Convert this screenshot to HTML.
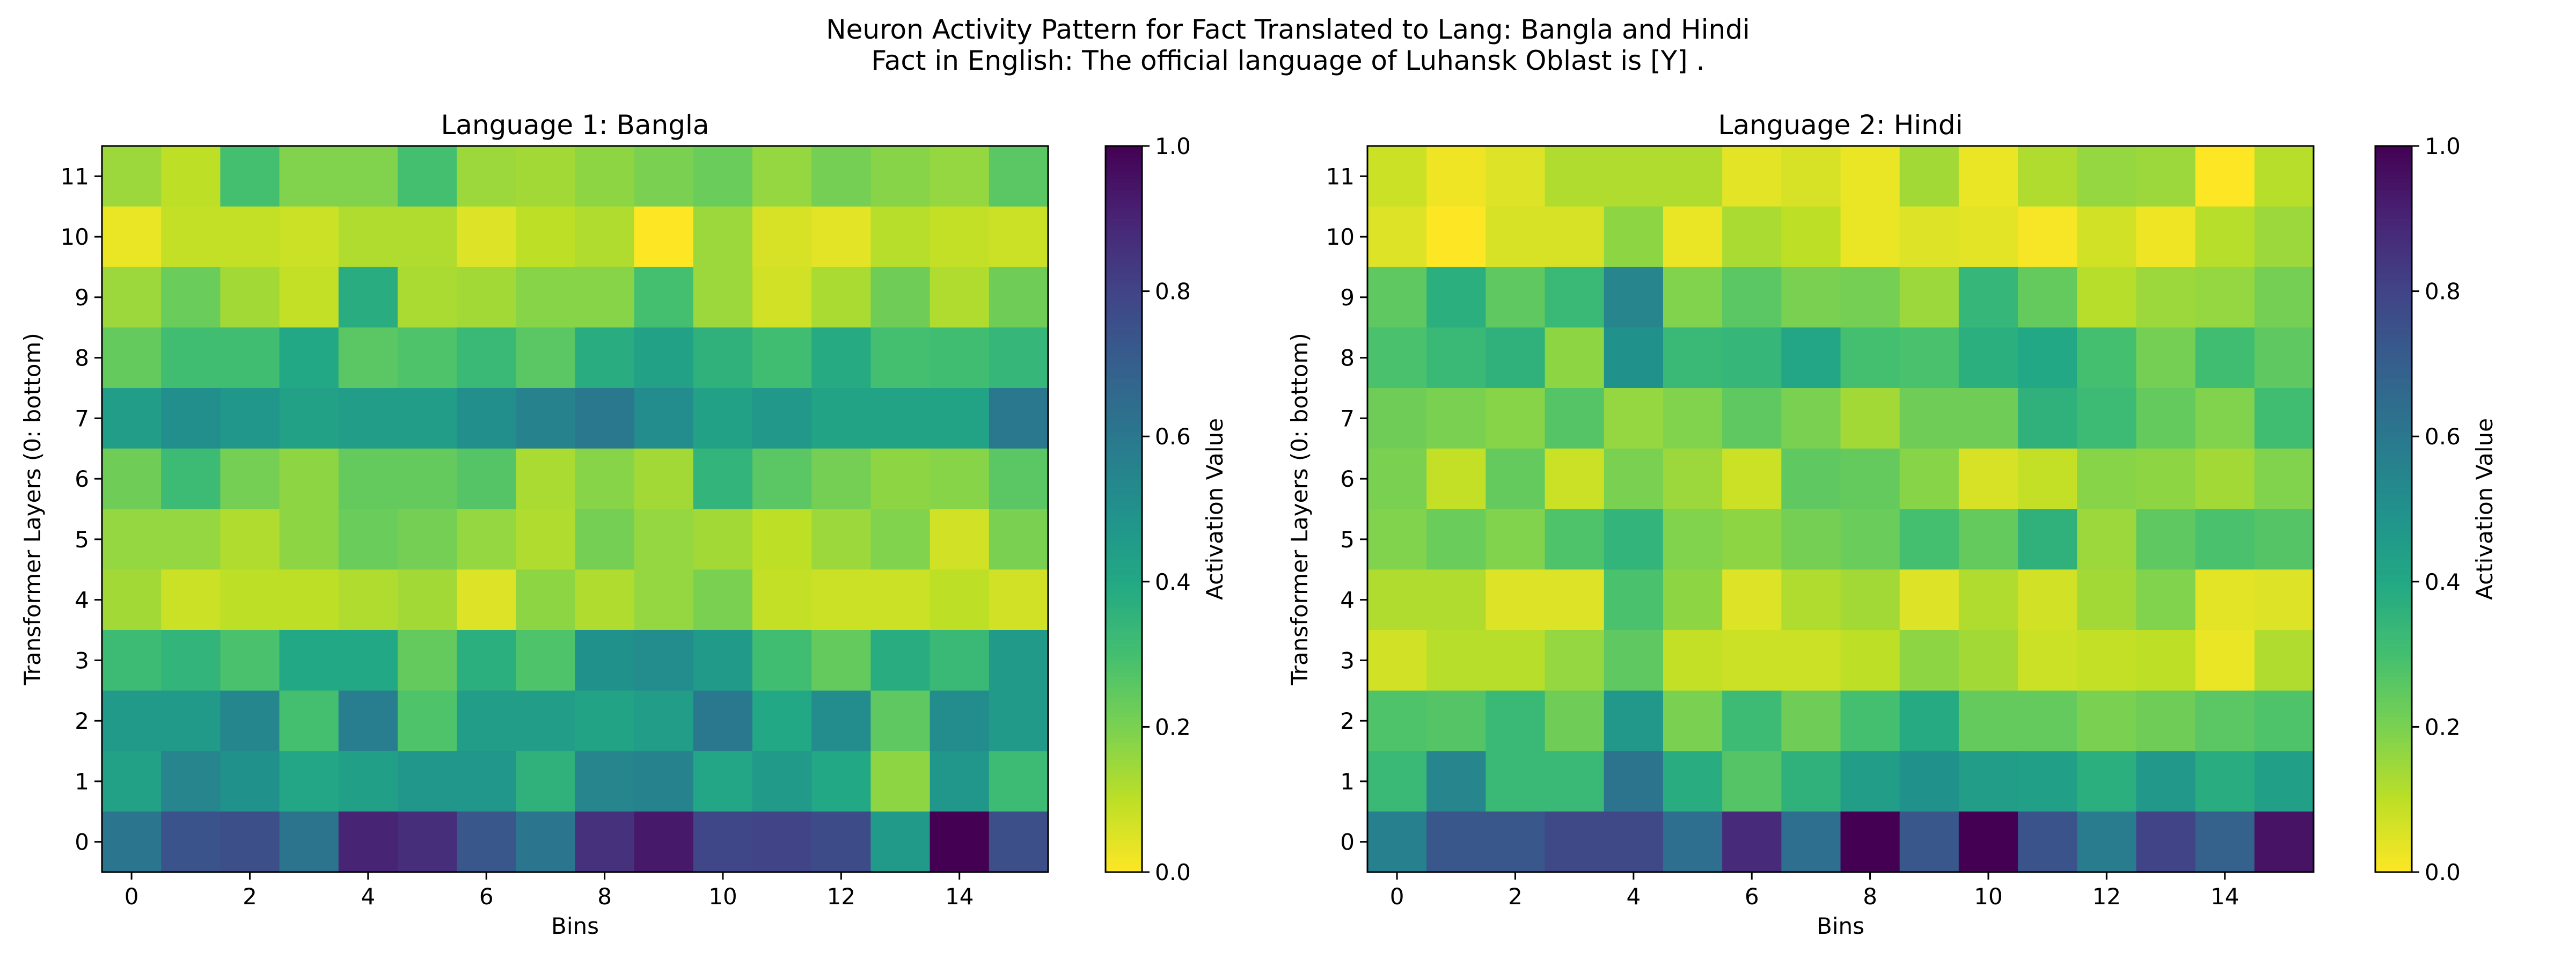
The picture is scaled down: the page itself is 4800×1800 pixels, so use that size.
<!DOCTYPE html>
<html><head><meta charset="utf-8"><style>
html,body{margin:0;padding:0;background:#fff;}
svg{display:block;font-family:"DejaVu Sans","Liberation Sans",sans-serif;}
</style></head>
<body>
<svg id="fig" width="4800" height="1800" viewBox="0 0 4800 1800" xmlns="http://www.w3.org/2000/svg">
<rect width="4800" height="1800" fill="#fff"/>
<text x="2400" y="72" font-size="50" text-anchor="middle">Neuron Activity Pattern for Fact Translated to Lang: Bangla and Hindi</text>
<text x="2400" y="130" font-size="50" text-anchor="middle">Fact in English: The official language of Luhansk Oblast is [Y] .</text>
<g id="plots"></g>
</svg>
<script>
const bins = [0,1,2,3,4,5,6,7,8,9,10,11,12,13,14,15];
const layers = [0,1,2,3,4,5,6,7,8,9,10,11];
const xTickLabels = [0,2,4,6,8,10,12,14];
const cbTickLabels = [0.0,0.2,0.4,0.6,0.8,1.0];
// rows listed from layer 11 (top) down to layer 0
const banglaValues = [
[0.15,0.10,0.30,0.19,0.19,0.30,0.15,0.14,0.17,0.20,0.23,0.16,0.21,0.18,0.16,0.26],
[0.03,0.09,0.09,0.08,0.12,0.12,0.05,0.10,0.12,0.00,0.15,0.06,0.04,0.11,0.09,0.08],
[0.15,0.23,0.14,0.09,0.38,0.13,0.14,0.18,0.18,0.30,0.15,0.07,0.13,0.22,0.12,0.22],
[0.24,0.31,0.31,0.40,0.26,0.28,0.33,0.26,0.38,0.43,0.36,0.31,0.39,0.30,0.31,0.34],
[0.45,0.51,0.48,0.43,0.45,0.45,0.51,0.56,0.60,0.52,0.43,0.47,0.42,0.42,0.42,0.60],
[0.22,0.32,0.21,0.17,0.24,0.24,0.27,0.13,0.18,0.14,0.35,0.26,0.21,0.17,0.18,0.26],
[0.16,0.16,0.12,0.17,0.23,0.21,0.16,0.12,0.21,0.16,0.14,0.10,0.15,0.19,0.07,0.20],
[0.14,0.08,0.10,0.10,0.12,0.14,0.05,0.17,0.12,0.16,0.20,0.09,0.08,0.08,0.10,0.07],
[0.32,0.35,0.29,0.40,0.40,0.24,0.37,0.28,0.50,0.52,0.46,0.31,0.24,0.38,0.33,0.46],
[0.46,0.46,0.54,0.30,0.58,0.28,0.45,0.45,0.42,0.45,0.60,0.40,0.52,0.25,0.52,0.46],
[0.43,0.55,0.50,0.41,0.44,0.48,0.48,0.36,0.55,0.56,0.41,0.46,0.40,0.17,0.48,0.32],
[0.61,0.74,0.76,0.62,0.90,0.87,0.73,0.61,0.86,0.93,0.79,0.80,0.77,0.46,1.00,0.76]
];
const hindiValues = [
[0.08,0.02,0.05,0.12,0.12,0.12,0.04,0.06,0.03,0.14,0.03,0.12,0.16,0.15,0.00,0.11],
[0.05,0.00,0.06,0.06,0.17,0.03,0.13,0.10,0.03,0.05,0.04,0.01,0.07,0.02,0.11,0.15],
[0.25,0.37,0.25,0.33,0.55,0.19,0.26,0.20,0.21,0.15,0.34,0.24,0.11,0.15,0.16,0.21],
[0.29,0.33,0.36,0.17,0.50,0.33,0.34,0.41,0.30,0.29,0.37,0.40,0.30,0.21,0.31,0.25],
[0.22,0.20,0.18,0.27,0.16,0.19,0.25,0.20,0.14,0.22,0.22,0.36,0.32,0.24,0.19,0.31],
[0.20,0.09,0.24,0.08,0.20,0.15,0.08,0.25,0.24,0.18,0.06,0.09,0.18,0.17,0.14,0.19],
[0.19,0.23,0.19,0.28,0.35,0.19,0.17,0.21,0.23,0.30,0.24,0.36,0.15,0.25,0.29,0.27],
[0.12,0.12,0.05,0.05,0.29,0.17,0.05,0.12,0.14,0.05,0.12,0.07,0.14,0.19,0.04,0.05],
[0.07,0.11,0.11,0.16,0.25,0.09,0.08,0.08,0.10,0.17,0.14,0.08,0.09,0.10,0.03,0.12],
[0.28,0.27,0.33,0.22,0.47,0.20,0.32,0.22,0.30,0.39,0.24,0.24,0.20,0.22,0.26,0.28],
[0.33,0.55,0.33,0.33,0.62,0.38,0.27,0.36,0.45,0.50,0.45,0.44,0.37,0.47,0.38,0.44],
[0.57,0.73,0.73,0.78,0.78,0.64,0.88,0.64,1.00,0.73,1.00,0.74,0.59,0.80,0.69,0.95]
];

const VIR = ["#440154","#482475","#414487","#355f8d","#2a788e","#21918c","#22a884","#44bf70","#7ad151","#bddf26","#fde725"];
function hex(h){return [1,3,5].map(i=>parseInt(h.substr(i,2),16));}
function cmap(v){ // viridis_r
  v=Math.max(0,Math.min(1,v)); const t=(1-v)*10; const i=Math.min(9,Math.floor(t)); const f=t-i;
  const a=hex(VIR[i]), b=hex(VIR[i+1]);
  return "rgb("+a.map((c,k)=>Math.round(c+(b[k]-c)*f)).join(",")+")";
}
const NS="http://www.w3.org/2000/svg";
const root=document.getElementById('plots');
function mk(tag,attrs,parent,txt){const e=document.createElementNS(NS,tag);for(const k in attrs)e.setAttribute(k,attrs[k]);if(txt!==undefined)e.textContent=txt;(parent||root).appendChild(e);return e;}

function drawPanel(values,title,ax,cb,ylabX,key){
  const g=mk('g',{});
  
  
  const W=ax.x1-ax.x0,H=ax.y1-ax.y0;
  const xs=b=>ax.x0+(b+0.5)*W/bins.length;
  const ys=l=>ax.y1-(l+0.5)*H/layers.length;
  const cw=W/bins.length,ch=H/layers.length;
  values.forEach((row,ri)=>{
    const layer=layers[layers.length-1-ri];
    row.forEach((v,bi)=>{
      const r=mk('rect',{x:(xs(bins[bi])-cw/2).toFixed(2),y:(ys(layer)-ch/2).toFixed(2),width:(cw+0.6).toFixed(2),height:(ch+0.6).toFixed(2),fill:cmap(v)},g);
      
      
    });
  });
  const fr=mk('rect',{x:ax.x0,y:ax.y0,width:W,height:H,fill:'none',stroke:'#000','stroke-width':3},g);
  
  
  xTickLabels.forEach(t=>{
    const x=xs(t);
    mk('line',{x1:x,x2:x,y1:ax.y1,y2:ax.y1+14,stroke:'#000','stroke-width':3},g);
    const tl=mk('text',{x:x,y:ax.y1+60,'font-size':42,'text-anchor':'middle'},g,String(t));
    
    
  });
  layers.forEach(l=>{
    const y=ys(l);
    mk('line',{x1:ax.x0-14,x2:ax.x0,y1:y,y2:y,stroke:'#000','stroke-width':3},g);
    const tl=mk('text',{x:ax.x0-24,y:y+15,'font-size':42,'text-anchor':'end'},g,String(l));
    
    
  });
  const tt=mk('text',{x:(ax.x0+ax.x1)/2,y:ax.y0-22,'font-size':50,'text-anchor':'middle'},g,title);
  
  
  const xl=mk('text',{x:(ax.x0+ax.x1)/2,y:ax.y1+115,'font-size':42,'text-anchor':'middle'},g,'Bins');
  
  
  const yl=mk('text',{x:0,y:0,'font-size':42,'text-anchor':'middle',transform:`translate(${ylabX},${(ax.y0+ax.y1)/2}) rotate(-90)`},g,'Transformer Layers (0: bottom)');
  
  
  // colorbar
  const cg=mk('g',{},g);
  
  
  const N=200, sh=(ax.y1-ax.y0)/N;
  for(let i=0;i<N;i++){
    const v=(i+0.5)/N;
    mk('rect',{x:cb.x0,y:(ax.y1-(i+1)*sh).toFixed(2),width:cb.x1-cb.x0,height:(sh+0.8).toFixed(2),fill:cmap(v)},cg);
  }
  mk('rect',{x:cb.x0,y:ax.y0,width:cb.x1-cb.x0,height:H,fill:'none',stroke:'#000','stroke-width':3},cg);
  cbTickLabels.forEach(t=>{
    const y=ax.y1-t*H;
    mk('line',{x1:cb.x1,x2:cb.x1+14,y1:y,y2:y,stroke:'#000','stroke-width':3},cg);
    const tl=mk('text',{x:cb.x1+24,y:y+15,'font-size':42},cg,t.toFixed(1));
    
    
  });
  const cl=mk('text',{x:0,y:0,'font-size':42,'text-anchor':'middle',transform:`translate(${cb.x1+150},${(ax.y0+ax.y1)/2}) rotate(-90)`},cg,'Activation Value');
  
  
}
drawPanel(banglaValues,'Language 1: Bangla',{x0:190,x1:1953,y0:272,y1:1625},{x0:2060,x1:2128},75,'bangla');
drawPanel(hindiValues,'Language 2: Hindi',{x0:2548,x1:4311,y0:272,y1:1625},{x0:4426,x1:4494},2436,'hindi');
</script>
</body></html>
